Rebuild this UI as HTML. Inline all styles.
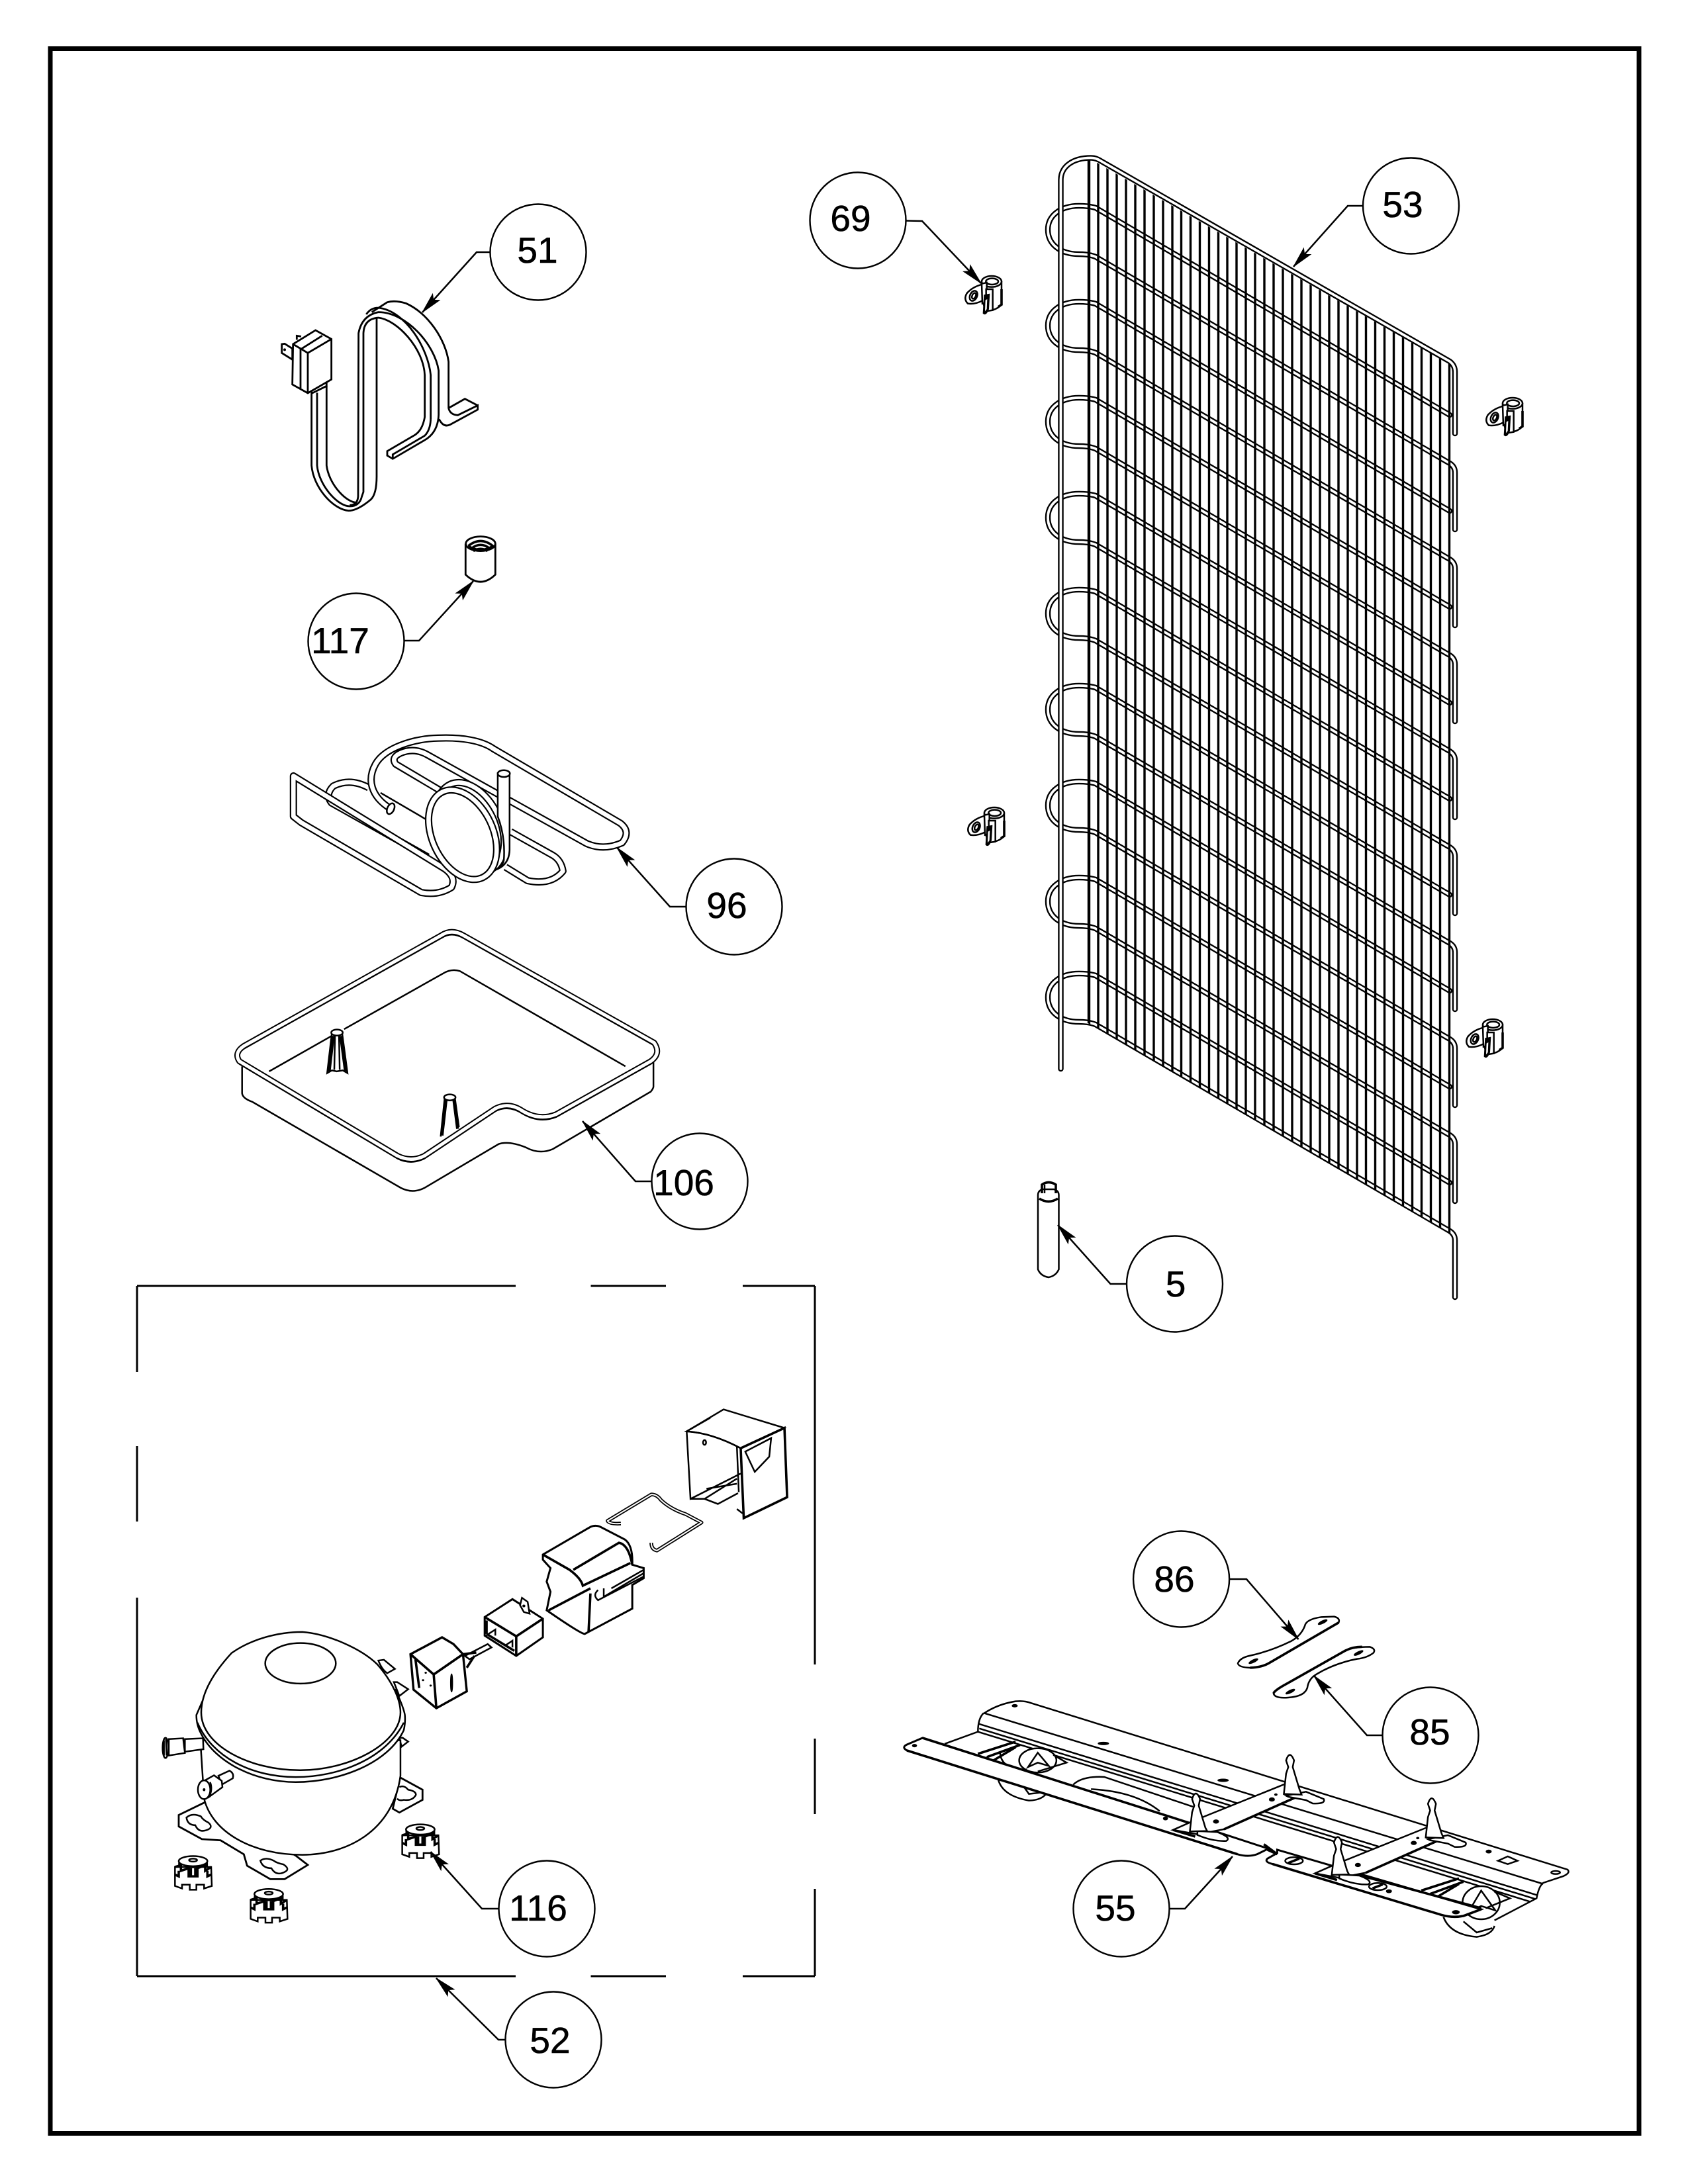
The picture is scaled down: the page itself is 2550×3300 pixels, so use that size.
<!DOCTYPE html>
<html><head><meta charset="utf-8"><style>
html,body{margin:0;padding:0;background:#fff}
svg{display:block}
path,line,ellipse,circle,polyline,polygon,rect{vector-effect:non-scaling-stroke}
.l{fill:none;stroke:#000;stroke-width:2.5}
.f{fill:#fff;stroke:#000;stroke-width:2.5}
.h{fill:none;stroke:#000;stroke-width:3.6}
.b{fill:#000;stroke:#000;stroke-width:1}
.o{fill:none;stroke:#000;stroke-width:8.5;stroke-linecap:round;stroke-linejoin:round}
.w{fill:none;stroke:#fff;stroke-width:3.8;stroke-linecap:round;stroke-linejoin:round}
.co{fill:none;stroke:#000;stroke-width:11;stroke-linejoin:round}
.cw{fill:none;stroke:#fff;stroke-width:6.6;stroke-linejoin:round}
text{font-family:"Liberation Sans",sans-serif;font-size:55px;fill:#000;text-anchor:middle;stroke:#000;stroke-width:.6}
.lead{fill:none;stroke:#000;stroke-width:2.5;marker-end:url(#ah)}
.c{fill:#fff;stroke:#000;stroke-width:2.4}
</style></head><body>
<svg xmlns="http://www.w3.org/2000/svg" width="2550" height="3300" viewBox="0 0 2550 3300">
<defs>
<marker id="ah" markerUnits="userSpaceOnUse" markerWidth="36" markerHeight="16" refX="33" refY="8" orient="auto"><path d="M2 1 L33 8 L2 15 L8 8Z" fill="#000" stroke="#000" stroke-width="1"/></marker>
<clipPath id="cp"><polygon points="1640,236 2194,553 2194,1866 1640,1544"/></clipPath>
<path id="loop" d="M2190 627 L1655 314 Q1645 311 1630 311 C1603 311 1583 325 1583 347 C1583 370 1603 384 1630 384 Q1645 384 1655 388 L2190 700 Q2198 705 2198 714 L2198 800"/>
<g id="foot">
<path class="f" d="M-82 -25 L82 -25 L85 50 L50 60 L50 45 L15 45 L15 65 L-15 65 L-15 45 L-50 45 L-50 60 L-82 50Z"/>
<ellipse class="f" cx="0" cy="-48" rx="65" ry="20"/>
<ellipse class="l" cx="0" cy="-52" rx="18" ry="6"/>
<path class="h" d="M-62 -42 L-62 -25 M62 -42 L62 -25 M-82 -25 L-55 -32 L-55 -10 L-20 -20 L-20 12 L20 12 L20 -20 L55 -32 L55 -10 L82 -25 M-82 5 L-65 12 L-65 -10 M82 5 L65 12 L65 -10 M-30 -25 L30 -25 M-10 -20 L-10 10 M10 -20 L10 10"/>
</g>
<g id="clamp" transform="scale(.3333)">
<path class="f" d="M75 25 Q120 -8 165 25 L165 130 Q130 165 90 150 L75 100Z"/>
<ellipse class="f" cx="120" cy="25" rx="45" ry="25"/>
<ellipse class="l" cx="122" cy="25" rx="28" ry="14"/>
<path class="f" d="M8 78 Q35 48 78 38 L82 110 Q45 130 12 125 Q-8 105 8 78Z"/>
<ellipse class="l" cx="38" cy="90" rx="16" ry="24" transform="rotate(25 38 90)"/>
<ellipse class="l" cx="40" cy="90" rx="8" ry="14" transform="rotate(25 40 90)"/>
<path class="f" d="M75 35 L98 30 L98 120 L78 125Z"/>
<path class="f" d="M95 60 L125 60 L125 155 L95 160Z"/>
<path fill="#000" d="M85 85 L112 80 L108 150 Q95 185 80 170Z"/>
<path fill="#fff" d="M92 110 L100 105 L98 150 L90 160Z"/>
<path class="h" d="M150 140 L165 130 L165 60"/>
</g>
<g id="member">
<path class="f" d="M645 795 L690 755 L900 585 L930 640 L760 792 L700 815Z"/>
<path class="h" d="M930 640 L760 792 M645 795 L695 825"/>
<path class="f" d="M900 640 L945 622 L985 655 Q990 678 960 675 L945 660 L905 645Z"/>
<path class="f" d="M700 800 L745 805 Q778 830 765 845 Q735 848 700 818Z"/>
<path class="f" d="M895 632 L900 540 L905 510 L900 480 Q908 430 918 480 L915 510 L930 610 L935 635Z"/>
<path class="f" d="M683 802 L688 715 L693 685 L688 655 Q696 605 706 655 L703 685 L718 785 L722 800Z"/>
<ellipse class="b" cx="868" cy="657" rx="6" ry="8"/><ellipse class="b" cx="877" cy="635" rx="3" ry="4"/><ellipse class="b" cx="742" cy="757" rx="6" ry="8"/>
</g>
</defs>

<!-- frame -->
<rect x="76" y="73.5" width="2400" height="3150" fill="none" stroke="#000" stroke-width="7"/>

<!-- condenser -->
<g id="cond">
<g class="o"><use href="#loop"/><use href="#loop" y="145"/><use href="#loop" y="290"/><use href="#loop" y="435"/><use href="#loop" y="580"/><use href="#loop" y="725"/><use href="#loop" y="870"/><use href="#loop" y="1015"/><use href="#loop" y="1160"/></g>
<g class="w"><use href="#loop"/><use href="#loop" y="145"/><use href="#loop" y="290"/><use href="#loop" y="435"/><use href="#loop" y="580"/><use href="#loop" y="725"/><use href="#loop" y="870"/><use href="#loop" y="1015"/><use href="#loop" y="1160"/></g>
<g clip-path="url(#cp)"><path fill="none" stroke="#000" stroke-width="3.4" d="M1645 200V1900M1659 200V1900M1673 200V1900M1687 200V1900M1701 200V1900M1715 200V1900M1729 200V1900M1743 200V1900M1757 200V1900M1771 200V1900M1784.5 200V1900M1798.5 200V1900M1812.5 200V1900M1826.5 200V1900M1840.5 200V1900M1854 200V1900M1868 200V1900M1882 200V1900M1896 200V1900M1910 200V1900M1924 200V1900M1938 200V1900M1952 200V1900M1966 200V1900M1980 200V1900M1994 200V1900M2008 200V1900M2022 200V1900M2036 200V1900M2050 200V1900M2063.5 200V1900M2077.5 200V1900M2091.5 200V1900M2105.5 200V1900M2119.5 200V1900M2133.5 200V1900M2147.5 200V1900M2161.5 200V1900M2175.5 200V1900M2189.5 200V1900"/>
<path fill="none" stroke="#000" stroke-width="4.4" d="M1645 200V1560"/></g>
<path class="o" d="M1602.5 1615 L1602.5 272 C1602.5 252 1620 238.5 1648 238.5 Q1654 238.5 1660 241.5 L2190 546 Q2198 552 2198 562 L2198 655"/>
<path class="w" d="M1602.5 1615 L1602.5 272 C1602.5 252 1620 238.5 1648 238.5 Q1654 238.5 1660 241.5 L2190 546 Q2198 552 2198 562 L2198 655"/>
</g>

<!-- clamps -->
<use href="#clamp" transform="translate(1458,417)"/>
<use href="#clamp" transform="translate(2245,601)"/>
<use href="#clamp" transform="translate(2215,1540)"/>
<use href="#clamp" transform="translate(1462,1220)"/>

<!-- capsule 5 -->
<path class="l" d="M1568 1806 Q1568 1799 1575 1797 L1592 1797 Q1599.5 1799 1599.5 1806 L1599.5 1918 Q1595 1928 1584 1930 Q1572 1928 1568 1918Z"/>
<path class="h" d="M1570 1811 Q1584 1820 1598 1811 M1574 1803 L1574 1790 Q1584 1783 1595 1790 L1595 1803"/>
<path class="l" d="M1578 1790 L1578 1803"/>

<!-- cord 51 -->
<g transform="translate(380,420) scale(.3333)">
<path class="l" style="stroke-width:2.8" d="M272 520 L272 850 C280 950 370 1050 440 1055 Q480 1055 540 1005 Q567 980 567 900 L567 180"/>
<path class="l" style="stroke-width:2.8" d="M297 520 L297 850 C305 940 390 1035 445 1035 Q490 1035 500 990 L507 970 L507 250 Q510 185 575 180 C660 190 780 320 785 440 L785 630 Q775 690 740 712 L615 785 L615 805 L640 820 L785 735 Q845 700 848 620 L848 420 C830 300 700 155 575 155 Q500 170 485 250 L483 990 Q480 1030 445 1030"/>
<path class="l" style="stroke-width:2.8" d="M340 490 L340 850 C350 930 420 1010 470 1018"/>
<path class="l" style="stroke-width:2.8" d="M545 155 L615 110 Q650 100 700 115 C800 160 880 280 893 380 L893 590 Q900 620 935 622 L1025 578 L1025 597 L900 665 Q870 680 850 640 M812 640 L812 440 C800 320 700 150 575 135 Q540 135 520 165 M893 590 L967 548 L1025 578 M640 820 L640 800 L785 715 Q810 690 812 640"/>
<path class="f" style="stroke-width:2.8" d="M188 300 L290 237 L362 277 L362 460 L255 522 L185 483Z"/>
<path class="l" style="stroke-width:2.8" d="M188 300 L225 322 L255 340 L362 277 M222 322 L222 500 M255 340 L255 522 M225 322 L320 262 M270 510 L275 522 L340 490 L340 470"/>
<path class="f" style="stroke-width:2.8" d="M137 300 L150 298 L185 320 L185 370 L137 340Z"/>
<path class="l" style="stroke-width:2.8" d="M205 280 L205 262 L225 265"/>
<circle cx="150" cy="325" r="6" fill="#000"/>
<!-- 117 -->
<path class="l" style="stroke-width:2.8" d="M970 1205 L970 1345 Q1038 1410 1105 1345 L1105 1205"/>
<ellipse class="l" style="stroke-width:2.8" cx="1038" cy="1205" rx="67" ry="33"/>
<path class="l" style="stroke-width:3.5" d="M982 1215 Q1038 1170 1094 1215 Q1038 1250 982 1215 M998 1225 Q1038 1195 1078 1225 M1005 1238 Q1038 1218 1070 1238"/>
</g>

<!-- coil 96 -->
<g transform="translate(330,1050) scale(.5102)">
<path class="co" d="M620 480 L335 320 Q315 295 340 270 Q390 245 445 275 M850 510 L915 550 Q985 565 1020 522 Q1015 490 990 475 L865 405"/>
<path class="cw" d="M620 480 L335 320 Q315 295 340 270 Q390 245 445 275 M850 510 L915 550 Q985 565 1020 522 Q1015 490 990 475 L865 405"/>
<path class="co" d="M660 285 L525 205 Q510 185 540 172 Q580 155 620 178 L1090 440 Q1140 462 1195 438 Q1222 405 1190 380 L815 160 C780 135 720 125 650 128 C570 130 490 160 465 205 C440 250 450 300 510 337"/>
<path class="cw" d="M660 285 L525 205 Q510 185 540 172 Q580 155 620 178 L1090 440 Q1140 462 1195 438 Q1222 405 1190 380 L815 160 C780 135 720 125 650 128 C570 130 490 160 465 205 C440 250 450 300 510 337"/>
<ellipse class="f" cx="510" cy="337" rx="10" ry="17" transform="rotate(25 510 337)"/>
<path class="l" d="M480 290 L660 395"/>
<path class="co" d="M222 240 L222 360 L245 378 L600 585 Q650 595 690 570 Q705 540 670 515Z"/>
<path class="cw" d="M222 240 L222 360 L245 378 L600 585 Q650 595 690 570 Q705 540 670 515Z"/>
<ellipse class="co" cx="745" cy="392" rx="90" ry="140" transform="rotate(-25 745 392)"/>
<ellipse class="cw" cx="745" cy="392" rx="90" ry="140" transform="rotate(-25 745 392)"/>
<ellipse class="co" style="fill:#fff" cx="723" cy="414" rx="90" ry="140" transform="rotate(-25 723 414)"/>
<ellipse class="cw" cx="723" cy="414" rx="90" ry="140" transform="rotate(-25 723 414)"/>
<path class="f" d="M827 232 L827 360 Q850 420 845 490 Q840 510 820 518 Q860 505 862 460 L862 232Z"/>
<ellipse class="f" cx="845" cy="233" rx="18" ry="10"/>
</g>

<!-- pan 106 -->
<g transform="translate(330,1050) scale(.5102)">
<path class="l" d="M70 1100 L70 1180 Q72 1195 100 1205 L540 1460 Q575 1478 610 1460 L830 1330 Q860 1320 910 1340 Q950 1362 990 1345 L1280 1175 Q1288 1165 1288 1160 L1288 1085"/>
<path class="l" d="M150 1115 L335 1010 M372 990 L665 825 Q690 810 715 818 L1205 1100"/>
<path d="M660 712 L75 1040 Q45 1060 62 1085 L530 1365 Q570 1385 610 1365 L820 1225 Q860 1205 900 1232 Q950 1262 1000 1242 L1280 1085 Q1312 1062 1290 1030 L725 712 Q690 692 660 712Z" fill="none" stroke="#000" stroke-width="2.4" transform="translate(0,8)"/>
<path d="M660 712 L75 1040 Q45 1060 62 1085 L530 1365 Q570 1385 610 1365 L820 1225 Q860 1205 900 1232 Q950 1262 1000 1242 L1280 1085 Q1312 1062 1290 1030 L725 712 Q690 692 660 712Z" fill="none" stroke="#000" stroke-width="9" stroke-linejoin="round"/>
<path d="M660 712 L75 1040 Q45 1060 62 1085 L530 1365 Q570 1385 610 1365 L820 1225 Q860 1205 900 1232 Q950 1262 1000 1242 L1280 1085 Q1312 1062 1290 1030 L725 712 Q690 692 660 712Z" fill="none" stroke="#fff" stroke-width="5" stroke-linejoin="round"/>
<path class="f" d="M322 1120 L336 1000 L366 1000 L382 1120 L368 1112 L350 1115 L336 1112Z"/>
<ellipse class="f" cx="351" cy="1000" rx="17" ry="9"/>
<path class="h" style="stroke-width:4.4" d="M328 1115 L340 1010 M376 1115 L362 1010"/>
<path class="l" d="M345 1010 L343 1110 M357 1010 L359 1110"/>
<path class="f" d="M658 1308 L670 1193 L700 1193 L712 1280"/>
<ellipse class="f" cx="685" cy="1192" rx="17" ry="9"/>
<path class="h" style="stroke-width:4.4" d="M662 1305 L674 1200 M708 1285 L697 1200"/>
</g>

<!-- dashed box 52 -->
<path fill="none" stroke="#000" stroke-width="3" d="M207 1943H779M892.5 1943H1006M1122 1943H1231M207 2986H779M892.5 2986H1006M1122 2986H1231M207 1943V2073M207 2185V2299M207 2414V2986M1231 1943V2515M1231 2627V2741M1231 2854V2986"/>

<!-- compressor -->
<g transform="translate(180,2400) scale(.3333,.3827)">
<path class="f" d="M1175 285 L1200 282 L1250 318 L1215 335 Q1190 320 1175 285Z"/>
<path class="f" d="M1245 370 L1260 370 L1310 398 L1270 425Z"/>
<path class="f" d="M1270 590 L1285 590 L1310 605 L1280 625Z"/>
<path class="f" style="stroke-width:2.8" d="M1270 745 L1375 795 L1375 835 L1270 885 L1240 870 L1265 780Z"/>
<path class="l" d="M1270 785 Q1290 775 1310 795 Q1345 800 1345 815 Q1330 840 1290 835 Q1270 840 1260 830"/>
<path class="f" style="stroke-width:2.8" d="M270 895 L395 842 L800 1055 L855 1092 L750 1148 L685 1148 L580 1095 L565 1050 L460 995 L375 990 L270 940Z"/>
<path class="l" d="M305 905 Q330 885 370 900 Q380 915 405 925 Q430 945 395 955 Q360 965 345 935 Q310 935 305 905Z"/>
<path class="l" d="M640 1075 Q665 1060 700 1075 Q715 1085 745 1090 Q780 1110 745 1122 Q710 1135 690 1105 Q650 1105 640 1075Z"/>
<path class="f" d="M368 600 L385 830 C420 960 600 1052 830 1052 C1030 1052 1240 960 1275 740 L1275 600Z"/>
<path class="f" d="M350 500 Q350 540 372 575 C440 690 620 765 800 765 C1000 765 1220 690 1290 560 Q1298 530 1295 500 C1290 470 1270 440 1255 400 L400 400Z"/>
<path class="f" d="M372 490 C372 420 420 340 510 255 C600 200 720 172 830 172 C950 180 1100 240 1170 300 C1240 370 1275 440 1275 490 C1275 610 1050 718 820 718 C590 718 372 620 372 490Z"/>
<path class="l" d="M355 530 C420 665 600 745 800 745 C1000 745 1210 670 1290 530"/>
<ellipse class="l" cx="822" cy="296" rx="160" ry="80"/>
<path class="f" d="M298 595 L380 592 L382 635 L298 645Z"/>
<path class="f" d="M225 595 L290 592 L298 650 L225 660Z"/>
<ellipse class="f" cx="210" cy="630" rx="13" ry="40"/>
<path class="l" d="M203 600 L203 660 M212 595 L215 660"/>
<path class="f" d="M450 740 L500 720 Q522 730 515 750 L465 775Z"/>
<path class="f" d="M385 760 L430 738 L465 760 L468 785 L405 825Z"/>
<ellipse class="f" cx="385" cy="795" rx="28" ry="37"/>
<circle cx="385" cy="795" r="6" fill="#000"/>
<path class="l" d="M412 765 Q425 790 408 825"/>
</g>
<g transform="translate(180,2400) scale(.3333,.3827)">
<use href="#foot" transform="translate(335,1125)"/>
<use href="#foot" transform="translate(678,1255)"/>
<use href="#foot" transform="translate(1365,1000)"/>
</g>

<!-- cover, clip, relay, etc -->
<g transform="translate(300,2150) scale(.5747,.5102)">
<path class="l" d="M1283 25 L1293 225 L1425 150 M1293 225 L1330 225 L1365 240 L1418 208 M1335 195 L1415 180 M1330 225 L1415 165 M1283 25 L1345 -15 M1283 25 Q1350 30 1425 75 M1415 70 L1420 205 M1415 255 L1430 268"/>
<path d="M1283 25 L1380 -40 L1540 15 L1425 75 Q1350 30 1283 25Z" class="l"/>
<path class="h" d="M1425 75 L1540 15 L1547 220 L1433 282 L1425 75"/>
<path class="l" d="M1437 85 L1505 45 L1500 100 L1462 145Z"/>
<ellipse class="l" cx="1330" cy="58" rx="4" ry="7"/>
<path d="M1110 298 Q1080 300 1075 290 L1190 212 Q1205 212 1215 228 Q1240 255 1280 270 L1322 295 L1205 378 Q1190 375 1190 355" fill="none" stroke="#000" stroke-width="5.5" stroke-linejoin="round"/>
<path d="M1110 298 Q1080 300 1075 290 L1190 212 Q1205 212 1215 228 Q1240 255 1280 270 L1322 295 L1205 378 Q1190 375 1190 355" fill="none" stroke="#fff" stroke-width="2" stroke-linejoin="round"/>
<path class="f" style="stroke-width:3" d="M905 390 L1030 308 Q1045 300 1060 310 L1120 345 Q1142 362 1140 420 L1170 430 L1170 460 L1140 480 L1140 550 L1015 625 Q1005 625 915 555 L925 500 L915 470 L925 430 L905 405Z"/>
<path class="h" d="M905 390 L975 435 Q1005 460 1010 482 L1135 415 M985 435 L1105 355 Q1130 360 1140 420 M920 555 L1030 490 M1030 505 L1025 620"/>
<path class="l" d="M1050 495 Q1035 510 1050 525 L1170 455 M1065 490 L1065 515 L1170 445 M1085 490 L1170 435"/>
<path class="f" style="stroke-width:3" d="M752 575 L825 522 L905 580 L905 635 L835 690 L752 630Z"/>
<path class="h" d="M752 575 L835 632 L905 580 M835 632 L835 690 M757 585 L757 625 M757 625 L830 675"/>
<path class="f" d="M850 518 L865 530 L870 565 L855 560 L845 540Z"/>
<circle cx="855" cy="542" r="4" fill="#000"/>
<path class="l" d="M755 630 L780 612 L780 630 M805 660 L825 645 L825 665"/>
<path class="f" d="M700 690 L760 655 L770 665 L712 700Z"/>
<path class="h" d="M705 725 L725 690 M695 685 L730 680"/>
<path class="f" style="stroke-width:3.4" d="M557 685 L640 635 L670 655 L695 685 L705 795 L625 845 L565 790Z"/>
<path class="h" d="M557 685 L618 745 L695 685 M618 745 L625 845 M570 700 L580 785"/>
<ellipse class="b" cx="665" cy="770" rx="3" ry="27"/>
<circle cx="597" cy="740" r="3" fill="#000"/><circle cx="590" cy="762" r="3" fill="#000"/><circle cx="610" cy="778" r="3" fill="#000"/>
</g>

<!-- straps -->
<g transform="translate(1650,2280) scale(.3846,.3333)">
<path class="f" d="M572 700 Q580 675 620 665 Q700 645 780 600 Q820 575 835 530 Q840 500 900 490 L950 488 Q975 495 968 515 L700 695 Q670 718 620 720 Q575 718 572 700Z"/>
<path class="h" d="M968 515 L700 695 Q670 718 620 720"/>
<ellipse class="b" cx="633" cy="690" rx="20" ry="6" transform="rotate(-30 633 690)"/>
<ellipse class="b" cx="905" cy="513" rx="20" ry="6" transform="rotate(-30 905 513)"/>
<path class="f" d="M712 835 Q720 820 760 795 L990 645 Q1020 625 1090 625 Q1115 635 1105 652 Q1080 675 1040 680 Q950 700 880 750 Q850 770 845 810 Q835 850 770 855 Q715 860 712 835Z"/>
<path class="h" d="M712 835 Q720 820 760 795 L990 645 Q1020 625 1060 625"/>
<ellipse class="b" cx="778" cy="828" rx="20" ry="6" transform="rotate(-30 778 828)"/>
<ellipse class="b" cx="1046" cy="653" rx="20" ry="6" transform="rotate(-30 1046 653)"/>
</g>

<!-- base 55 -->
<g transform="translate(1340,2500) scale(.6698,.3333)">
<path class="l" d="M220 265 Q250 225 290 212 Q310 208 325 220 L1535 975 Q1542 990 1525 1005 L1480 1035 Q1470 1050 1465 1105 L1370 1205 M218 265 L1480 1040 M218 265 Q205 290 205 350 L130 405"/>
<path class="l" d="M208 315 L1465 1090 M208 335 L1462 1108 M205 350 L1450 1120"/>
<ellipse class="b" cx="288" cy="232" rx="6" ry="6"/>
<ellipse class="b" cx="488" cy="403" rx="12" ry="6"/>
<ellipse class="b" cx="758" cy="570" rx="12" ry="6"/>
<ellipse class="b" cx="1357" cy="893" rx="6" ry="7"/>
<ellipse class="l" cx="1508" cy="988" rx="10" ry="7"/>
<path class="l" d="M1378 935 L1400 915 L1422 935 L1400 950Z"/>
<!-- left wheel -->
<path class="l" d="M250 560 Q258 640 320 662 Q352 660 362 622 M300 575 L320 632 L350 625"/>
<path class="h" d="M205 450 L290 395 M225 465 L300 410 M240 480 L290 420"/>
<ellipse class="f" cx="340" cy="480" rx="42" ry="55"/>
<path class="l" d="M340 445 L365 505 L340 490 L318 510Z M255 440 Q255 500 290 520 M375 455 L405 490 L340 530"/>
<path class="l" d="M420 590 Q440 550 490 555 L690 690 M460 610 Q560 620 615 710"/>
<!-- front bar -->
<path class="f" d="M80 378 L700 775 L860 880 L835 905 Q815 920 790 905 L45 435 Q32 420 45 408Z" style="stroke-width:3"/>
<path class="h" d="M45 435 L790 905 M80 378 L700 775"/>
<ellipse class="b" cx="62" cy="413" rx="5" ry="6"/>
<ellipse class="b" cx="628" cy="743" rx="5" ry="7"/>
<!-- right wheel -->
<path class="l" d="M1255 1190 Q1270 1270 1330 1280 Q1365 1270 1370 1230 M1300 1210 L1330 1260 L1365 1240"/>
<path class="h" d="M1205 1070 L1290 1015 M1225 1085 L1300 1030 M1240 1100 L1290 1040"/>
<ellipse class="f" cx="1340" cy="1125" rx="42" ry="75"/>
<path class="l" d="M1340 1070 L1372 1160 L1340 1140 L1312 1165Z M1370 1075 L1405 1105 L1350 1150"/>
<!-- second front -->
<path class="f" style="stroke-width:3" d="M880 885 L1340 1155 L1300 1185 Q1275 1195 1250 1180 L870 950 Q850 940 858 925 L880 900Z"/>
<path class="h" d="M870 950 L1250 1180 Q1275 1195 1300 1185 L1340 1155 M1000 965 L1340 1150"/>
<path class="h" d="M850 860 L880 905 L858 885"/>
<ellipse class="l" cx="918" cy="935" rx="20" ry="16"/>
<path class="h" d="M905 945 L930 925"/>
<ellipse class="l" cx="1107" cy="1052" rx="20" ry="16"/>
<path class="h" d="M1095 1060 L1118 1042"/>
<ellipse class="b" cx="1132" cy="1073" rx="6" ry="7"/>
<ellipse class="b" cx="1283" cy="1168" rx="8" ry="8"/>
<use href="#member"/>
<use href="#member" transform="translate(320,197)"/>
</g>

<!-- leaders -->
<g>
<polyline class="lead" points="741,381 720,381 638,472"/>
<polyline class="lead" points="1369,333.5 1393,334 1482,428"/>
<polyline class="lead" points="2059,311 2036,311 1954,403"/>
<polyline class="lead" points="610,968 633,968 715,878"/>
<polyline class="lead" points="1036.6,1370 1012,1370 932,1280.6"/>
<polyline class="lead" points="984.6,1785 960,1785 880,1694"/>
<polyline class="lead" points="1702,1940 1677.5,1940 1598,1851"/>
<polyline class="lead" points="1858,2386 1883,2386 1961.5,2477"/>
<polyline class="lead" points="2088,2622 2065,2622 1985,2532"/>
<polyline class="lead" points="1767,2884 1790,2884 1862,2805"/>
<polyline class="lead" points="754,2884 728,2884 650.6,2798"/>
<polyline class="lead" points="764,3082 753,3082 659,2989"/>
</g>

<!-- balloons -->
<circle class="c" cx="813" cy="381" r="72.5"/><text x="812" y="397">51</text>
<circle class="c" cx="1296" cy="333" r="72.5"/><text x="1285" y="349">69</text>
<circle class="c" cx="2131.5" cy="311" r="72.5"/><text x="2119" y="328">53</text>
<circle class="c" cx="538" cy="969" r="72.5"/><text x="514" y="987">117</text>
<circle class="c" cx="1109" cy="1370" r="72.5"/><text x="1098" y="1387">96</text>
<circle class="c" cx="1057" cy="1785" r="72.5"/><text x="1033" y="1806">106</text>
<circle class="c" cx="1774.5" cy="1940" r="72.5"/><text x="1776" y="1959">5</text>
<circle class="c" cx="1784.6" cy="2386" r="72.5"/><text x="1774" y="2405">86</text>
<circle class="c" cx="2161" cy="2622" r="72.5"/><text x="2160" y="2636">85</text>
<circle class="c" cx="1694" cy="2884" r="72.5"/><text x="1685" y="2902">55</text>
<circle class="c" cx="826" cy="2884" r="72.5"/><text x="813" y="2902">116</text>
<circle class="c" cx="836" cy="3082" r="72.5"/><text x="831" y="3102">52</text>
</svg>
</body></html>
